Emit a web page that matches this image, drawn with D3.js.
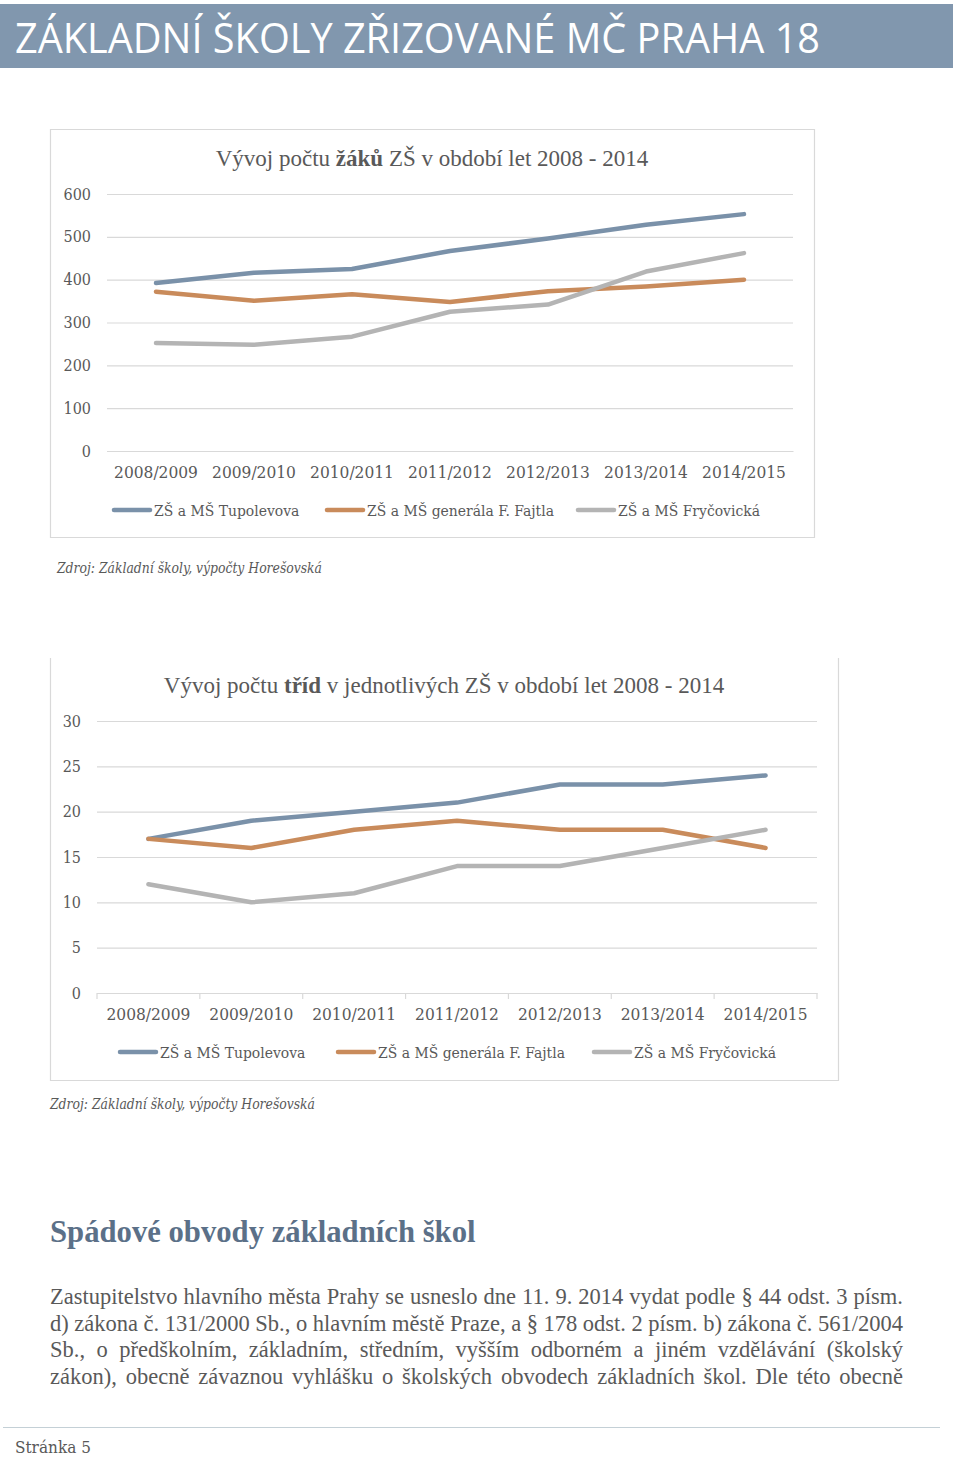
<!DOCTYPE html>
<html>
<head>
<meta charset="utf-8">
<script src="https://cdn.jsdelivr.net/npm/d3@7"></script>
<style>
  html, body { margin: 0; padding: 0; background: #fff; }
  svg { display: block; }
</style>
</head>
<body>
<script>
// ---------- DATA ----------
const categories = ["2008/2009", "2009/2010", "2010/2011", "2011/2012", "2012/2013", "2013/2014", "2014/2015"];
const seriesNames = ["ZŠ a MŠ Tupolevova", "ZŠ a MŠ generála F. Fajtla", "ZŠ a MŠ Fryčovická"];
const seriesColors = ["#7a91a9", "#c98b5b", "#b4b4b4"];

// Pupils (žáci)
const pupilsTupolevova = [392, 416, 425, 467, 496, 528, 553];
const pupilsFajtla     = [372, 351, 366, 348, 373, 384, 400];
const pupilsFrycovicka = [252, 248, 267, 325, 342, 419, 462];
const pupilsTicks = [0, 100, 200, 300, 400, 500, 600];

// Classes (třídy)
const classesTupolevova = [17, 19, 20, 21, 23, 23, 24];
const classesFajtla     = [17, 16, 18, 19, 18, 18, 16];
const classesFrycovicka = [12, 10, 11, 14, 14, 16, 18];
const classesTicks = [0, 5, 10, 15, 20, 25, 30];

const pageTitle = "ZÁKLADNÍ ŠKOLY ZŘIZOVANÉ MČ PRAHA 18";
const sourceText = "Zdroj: Základní školy, výpočty Horešovská";
const sectionHeading = "Spádové obvody základních škol";
const paragraphLines = [
  "Zastupitelstvo hlavního města Prahy se usneslo dne 11. 9. 2014 vydat podle § 44 odst. 3 písm.",
  "d) zákona č. 131/2000 Sb., o hlavním městě Praze, a § 178 odst. 2 písm. b) zákona č. 561/2004",
  "Sb., o předškolním, základním, středním, vyšším odborném a jiném vzdělávání (školský",
  "zákon), obecně závaznou vyhlášku o školských obvodech základních škol. Dle této obecně"
];
const footerText = "Stránka 5";

// ---------- RENDER ----------
const W = 960, H = 1458;
const svg = d3.select("body").append("svg").attr("width", W).attr("height", H);
svg.append("rect").attr("width", W).attr("height", H).attr("fill", "#fff");

const labelFont = "'DejaVu Serif Condensed', 'DejaVu Serif', serif";
const timesFont = "'Liberation Serif', 'Times New Roman', serif";
const textGray = "#595959";

// Header bar
svg.append("rect").attr("x", 0).attr("y", 4).attr("width", 953).attr("height", 64).attr("fill", "#8197ae");
svg.append("text").attr("x", 15).attr("y", 53)
  .attr("font-family", "'Open Sans', 'Liberation Sans', sans-serif")
  .attr("font-size", 42).attr("fill", "#fff")
  .attr("textLength", 805).attr("lengthAdjust", "spacingAndGlyphs")
  .text(pageTitle);

function drawChart(cfg) {
  const g = svg.append("g");
  if (cfg.framePath) {
    g.append("path").attr("d", cfg.framePath).attr("fill", "none").attr("stroke", "#d9d9d9").attr("stroke-width", 1.2);
  }
  const t = g.append("text").attr("x", cfg.titleX).attr("y", cfg.titleY).attr("text-anchor", "middle")
    .attr("font-family", timesFont).attr("font-size", 23).attr("fill", textGray);
  t.append("tspan").text(cfg.titlePre);
  t.append("tspan").attr("font-weight", "bold").text(cfg.titleBold);
  t.append("tspan").text(cfg.titlePost);

  const x = d3.scaleBand().domain(categories).range([cfg.x0, cfg.x1]);
  const y = d3.scaleLinear().domain([0, d3.max(cfg.ticks)]).range([cfg.yBottom, cfg.yTop]);

  const yAxis = d3.axisLeft(y).tickValues(cfg.ticks).tickSize(-(cfg.x1 - cfg.x0)).tickPadding(cfg.x0 - cfg.yLabelX);
  const ya = g.append("g").attr("transform", `translate(${cfg.x0},0)`).call(yAxis);
  ya.select(".domain").remove();
  ya.selectAll(".tick line").attr("stroke", "#d9d9d9").attr("stroke-width", 1.2);
  ya.selectAll(".tick text").attr("font-family", labelFont).attr("font-size", 16).attr("fill", textGray);

  const xAxis = d3.axisBottom(x).tickSize(0).tickPadding(cfg.xLabelPad);
  const xa = g.append("g").attr("transform", `translate(0,${cfg.yBottom})`).call(xAxis);
  xa.select(".domain").attr("stroke", "#d9d9d9").attr("stroke-width", 1.2);
  xa.selectAll(".tick text").attr("font-family", labelFont).attr("font-size", 17.2).attr("fill", textGray);
  if (cfg.boundaryTicks) {
    const bounds = categories.map(c => x(c)).concat([x(categories[categories.length - 1]) + x.bandwidth()]);
    xa.selectAll(".btick").data(bounds).enter().append("line")
      .attr("x1", d => d).attr("x2", d => d).attr("y1", 0).attr("y2", 6)
      .attr("stroke", "#d9d9d9").attr("stroke-width", 1.2);
  }

  const line = d3.line().x((d, i) => x(categories[i]) + x.bandwidth() / 2).y(d => y(d));
  cfg.series.forEach((s, i) => {
    g.append("path").datum(s).attr("d", line).attr("fill", "none")
      .attr("stroke", seriesColors[i]).attr("stroke-width", 4.5)
      .attr("stroke-linecap", "round").attr("stroke-linejoin", "round");
  });

  cfg.legendX.forEach((lx, i) => {
    g.append("line").attr("x1", lx).attr("x2", lx + 36).attr("y1", cfg.legendY).attr("y2", cfg.legendY)
      .attr("stroke", seriesColors[i]).attr("stroke-width", 4.5).attr("stroke-linecap", "round");
    g.append("text").attr("x", lx + 40).attr("y", cfg.legendY + 6)
      .attr("font-family", labelFont).attr("font-size", 15.5).attr("fill", textGray)
      .text(seriesNames[i]);
  });

  svg.append("text").attr("x", cfg.srcX).attr("y", cfg.srcY)
    .attr("font-family", labelFont).attr("font-style", "italic").attr("font-size", 14.5).attr("fill", textGray)
    .attr("textLength", 265).attr("lengthAdjust", "spacingAndGlyphs")
    .text(sourceText);
}

drawChart({
  framePath: "M50.5,129.5 H814.5 V537.5 H50.5 Z",
  titleX: 432, titleY: 166, titlePre: "Vývoj počtu ", titleBold: "žáků", titlePost: " ZŠ v období let 2008 - 2014",
  x0: 107, x1: 793, yTop: 194, yBottom: 451, yLabelX: 91,
  ticks: pupilsTicks, xLabelPad: 15, boundaryTicks: false,
  series: [pupilsTupolevova, pupilsFajtla, pupilsFrycovicka],
  legendX: [114, 327, 578], legendY: 510,
  srcX: 57, srcY: 573
});

drawChart({
  framePath: "M50.5,658 V1080.5 H838.5 V658",
  titleX: 444, titleY: 693, titlePre: "Vývoj počtu ", titleBold: "tříd", titlePost: " v jednotlivých ZŠ v období let 2008 - 2014",
  x0: 97, x1: 817, yTop: 721, yBottom: 993, yLabelX: 81,
  ticks: classesTicks, xLabelPad: 15, boundaryTicks: true,
  series: [classesTupolevova, classesFajtla, classesFrycovicka],
  legendX: [120, 338, 594], legendY: 1052,
  srcX: 50, srcY: 1109
});

svg.append("text").attr("x", 50).attr("y", 1242)
  .attr("font-family", timesFont).attr("font-weight", "bold").attr("font-size", 30.7).attr("fill", "#5b7088")
  .text(sectionHeading);

const paraX0 = 50, paraX1 = 903;
const baselines = [1304, 1331, 1357, 1384];
paragraphLines.forEach((ln, li) => {
  const words = ln.split(" ");
  const tg = svg.append("g");
  const nodes = words.map(w => tg.append("text").attr("y", baselines[li])
    .attr("font-family", timesFont).attr("font-size", 22.5).attr("fill", "#595959").text(w));
  let widths = nodes.map(n => n.node().getComputedTextLength());
  const total = d3.sum(widths);
  const minGap = 4;
  const avail = paraX1 - paraX0 - minGap * (words.length - 1);
  if (total > avail) {
    const k = avail / total;
    nodes.forEach((n, i) => n.attr("textLength", widths[i] * k).attr("lengthAdjust", "spacingAndGlyphs"));
    widths = widths.map(w => w * k);
  }
  const gap = (paraX1 - paraX0 - d3.sum(widths)) / (words.length - 1);
  let cx = paraX0;
  nodes.forEach((n, i) => { n.attr("x", cx); cx += widths[i] + gap; });
});

svg.append("line").attr("x1", 3).attr("x2", 940).attr("y1", 1427.5).attr("y2", 1427.5)
  .attr("stroke", "#c4d0d6").attr("stroke-width", 1.2);
svg.append("text").attr("x", 15).attr("y", 1453)
  .attr("font-family", labelFont).attr("font-size", 17).attr("fill", textGray)
  .text(footerText);
</script>
</body>
</html>
